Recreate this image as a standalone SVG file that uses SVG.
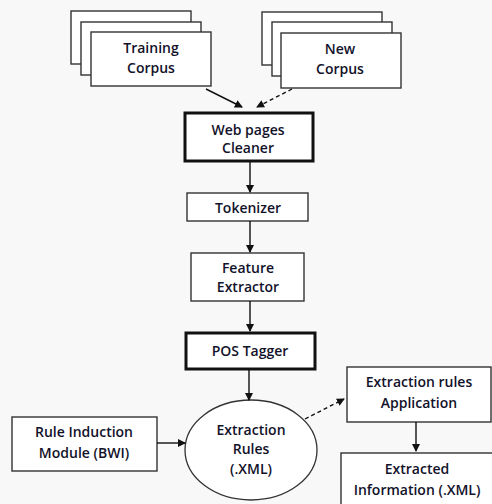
<svg xmlns="http://www.w3.org/2000/svg" width="492" height="504" viewBox="0 0 492 504">
<defs>
<marker id="ah" markerWidth="8" markerHeight="8" refX="7" refY="4" orient="auto" markerUnits="userSpaceOnUse">
<path d="M0,0 L8,4 L0,8 Z" fill="#111"/>
</marker>
<style>
.box{fill:#fff;stroke:#333;stroke-width:1.4}
.thick{fill:#fff;stroke:#111;stroke-width:3}
.t{font-family:"Open Sans","Liberation Sans",sans-serif;font-weight:600;font-size:14px;fill:#12122a;text-anchor:middle}
.c{stroke:#111;stroke-width:1.4;fill:none;marker-end:url(#ah)}
.d{stroke-dasharray:4,3}
</style>
</defs>
<rect width="492" height="504" fill="#f8f8f8"/>
<g id="training-corpus">
<rect class="box" x="71" y="11" width="120" height="53"/>
<rect class="box" x="81" y="22" width="120" height="53"/>
<rect class="box" x="91" y="32" width="120" height="54"/>
<text class="t" x="151" y="53">Training</text>
<text class="t" x="151" y="73">Corpus</text>
</g>
<g id="new-corpus">
<rect class="box" x="262" y="12" width="120" height="53"/>
<rect class="box" x="272" y="22" width="120" height="54"/>
<rect class="box" x="281" y="33" width="120" height="55"/>
<text class="t" x="340" y="54">New</text>
<text class="t" x="340" y="74">Corpus</text>
</g>
<g id="cleaner">
<rect class="thick" x="185" y="113" width="128" height="48"/>
<text class="t" x="248" y="135">Web pages</text>
<text class="t" x="248" y="153">Cleaner</text>
</g>
<g id="tokenizer">
<rect class="box" x="187" y="193" width="121" height="28"/>
<text class="t" x="248" y="213">Tokenizer</text>
</g>
<g id="feature-extractor">
<rect class="box" x="191" y="253" width="113" height="48"/>
<text class="t" x="248" y="273">Feature</text>
<text class="t" x="248" y="292">Extractor</text>
</g>
<g id="pos-tagger">
<rect class="thick" x="186" y="333" width="129" height="36"/>
<text class="t" x="250" y="356">POS Tagger</text>
</g>
<g id="extraction-rules">
<ellipse cx="251" cy="450" rx="66" ry="50" fill="#fff" stroke="#333" stroke-width="1.3"/>
<text class="t" x="251" y="435">Extraction</text>
<text class="t" x="251" y="454">Rules</text>
<text class="t" x="251" y="474">(.XML)</text>
</g>
<g id="rule-induction">
<rect class="box" x="12" y="417" width="145" height="54"/>
<text class="t" x="84" y="437">Rule Induction</text>
<text class="t" x="84" y="458">Module (BWI)</text>
</g>
<g id="rules-application">
<rect class="box" x="347" y="367" width="144" height="55"/>
<text class="t" x="419" y="387">Extraction rules</text>
<text class="t" x="419" y="408">Application</text>
</g>
<g id="extracted-information">
<rect class="box" x="341" y="453" width="160" height="60"/>
<text class="t" x="417" y="474">Extracted</text>
<text class="t" x="417" y="495">Information (.XML)</text>
</g>
<g id="connectors">
<line class="c" x1="206" y1="89" x2="242" y2="107"/>
<line class="c d" x1="292" y1="89" x2="257" y2="107"/>
<line class="c" x1="250" y1="161" x2="250" y2="192"/>
<line class="c" x1="250" y1="221" x2="250" y2="252"/>
<line class="c" x1="250" y1="301" x2="250" y2="331"/>
<line class="c" x1="249" y1="369" x2="249" y2="400"/>
<line class="c" x1="157" y1="443" x2="185" y2="443"/>
<line class="c d" x1="305" y1="419" x2="344" y2="399"/>
<line class="c" x1="416" y1="422" x2="416" y2="451"/>
</g>
</svg>
